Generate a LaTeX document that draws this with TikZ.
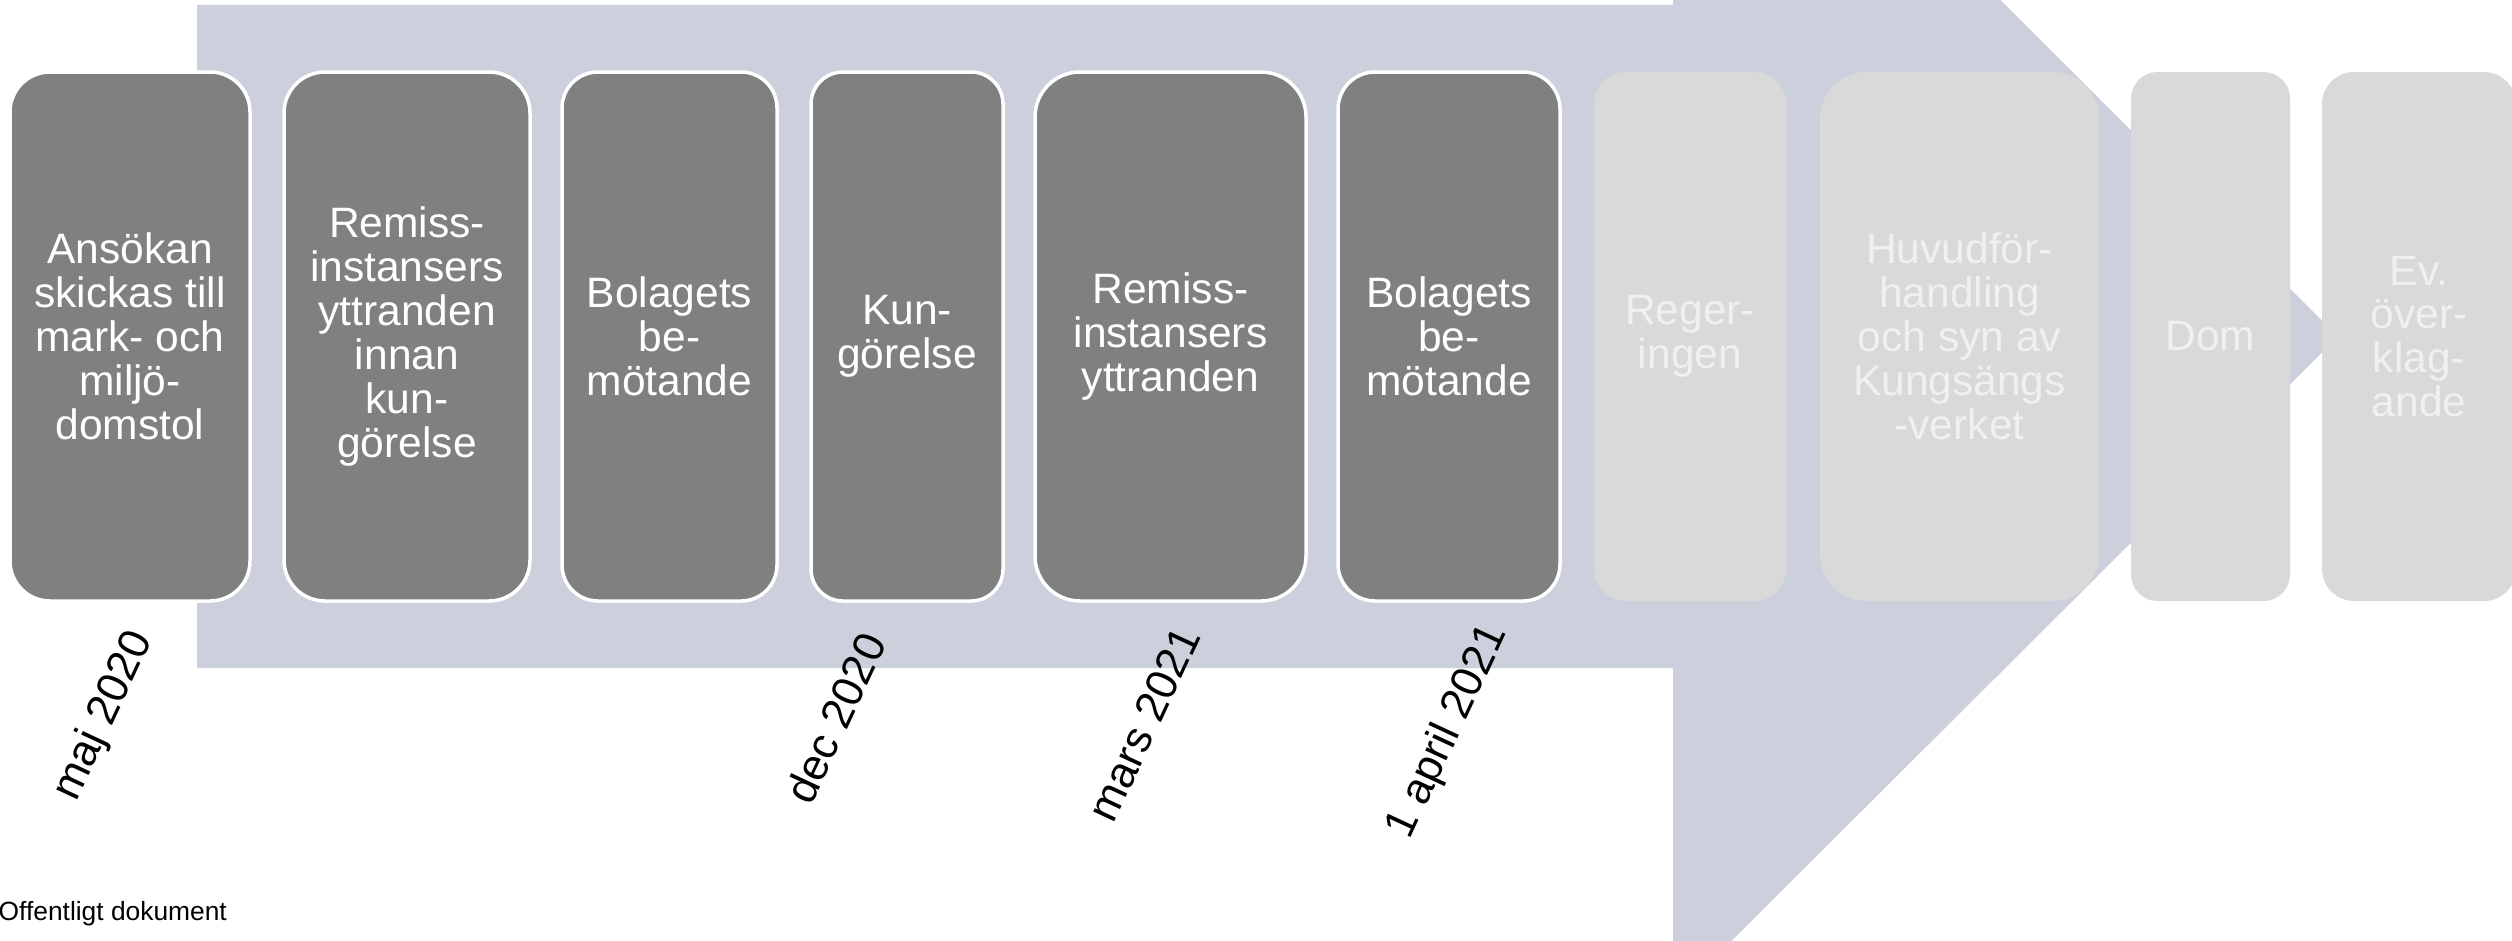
\documentclass[tikz,border=0pt]{standalone}
\usepackage{fontspec}
\setmainfont{Liberation Sans}
\usetikzlibrary{positioning}
\definecolor{arrowgrey}{RGB}{203,208,220}
\definecolor{stagegrey}{RGB}{128,128,128}
\definecolor{futuregrey}{RGB}{217,217,217}
\definecolor{futuretext}{RGB}{240,240,240}

\begin{document}
\begin{tikzpicture}[
        stage/.style={draw=white, line width=0.035cm, fill=stagegrey, text=white, align=center,
            inner sep=0pt, minimum height=5.29cm, font=\fontsize{12.1}{12.5}\selectfont},
        future/.style={fill=futuregrey, text=futuretext, align=center,
            inner sep=0pt, minimum height=5.29cm, font=\fontsize{12.1}{12.5}\selectfont},
        datum/.style={rotate=65, inner sep=0pt, font=\fontsize{12.5}{14}\selectfont}]
    \useasboundingbox (0,0) rectangle (25.12,9.40);
    \clip (0,0) rectangle (25.12,9.40);

    % the big arrow behind the stages
    \fill[arrowgrey] (1.97,9.35) -- (16.73,9.35) -- (16.73,12.66) -- (23.38,6.035)
        -- (16.73,-0.59) -- (16.73,2.72) -- (1.97,2.72) -- cycle;

    \node[stage, minimum width=2.40cm, rounded corners=0.40cm] (s1) at (1.30, 6.035) {Ansökan\\skickas till\\mark- och\\miljö-\\domstol};
    \node[stage, minimum width=2.46cm, rounded corners=0.41cm] (s2) at (4.07, 6.035) {Remiss-\\instansers\\yttranden\\innan\\kun-\\görelse};
    \node[stage, minimum width=2.15cm, rounded corners=0.36cm] (s3) at (6.695, 6.035) {Bolagets\\be-\\mötande};
    \node[stage, minimum width=1.92cm, rounded corners=0.32cm] (s4) at (9.07, 6.035) {Kun-\\görelse};
    \node[stage, minimum width=2.71cm, rounded corners=0.45cm] (s5) at (11.705, 6.035) {Remiss-\\instansers\\yttranden};
    \node[stage, minimum width=2.22cm, rounded corners=0.37cm] (s6) at (14.49, 6.035) {Bolagets\\be-\\mötande};

    \node[future, minimum width=1.92cm, rounded corners=0.32cm] (s7) at (16.90, 6.035) {Reger-\\ingen};
    \node[future, minimum width=2.79cm, rounded corners=0.465cm] (s8) at (19.595, 6.035) {Huvudför-\\handling\\och syn av\\Kungsängs\\-verket};
    \node[future, minimum width=1.59cm, rounded corners=0.265cm] (s9) at (22.105, 6.035) {Dom};
    \node[future, minimum width=1.94cm, rounded corners=0.32cm] (s10) at (24.19, 6.035) {Ev.\\över-\\klag-\\ande};

    % dates under the stages
    \node[datum] (d1) at (1.04, 2.24) {maj 2020};
    \node[datum] (d2) at (8.35, 2.22) {dec 2020};
    \node[datum] (d3) at (11.44, 2.16) {mars 2021};
    \node[datum] (d4) at (14.48, 2.08) {1 april 2021};

    \node[anchor=base west, inner sep=0pt, font=\fontsize{7.5}{9}\selectfont] (doc) at (-0.02, 0.20) {Offentligt dokument};
\end{tikzpicture}
\end{document}
